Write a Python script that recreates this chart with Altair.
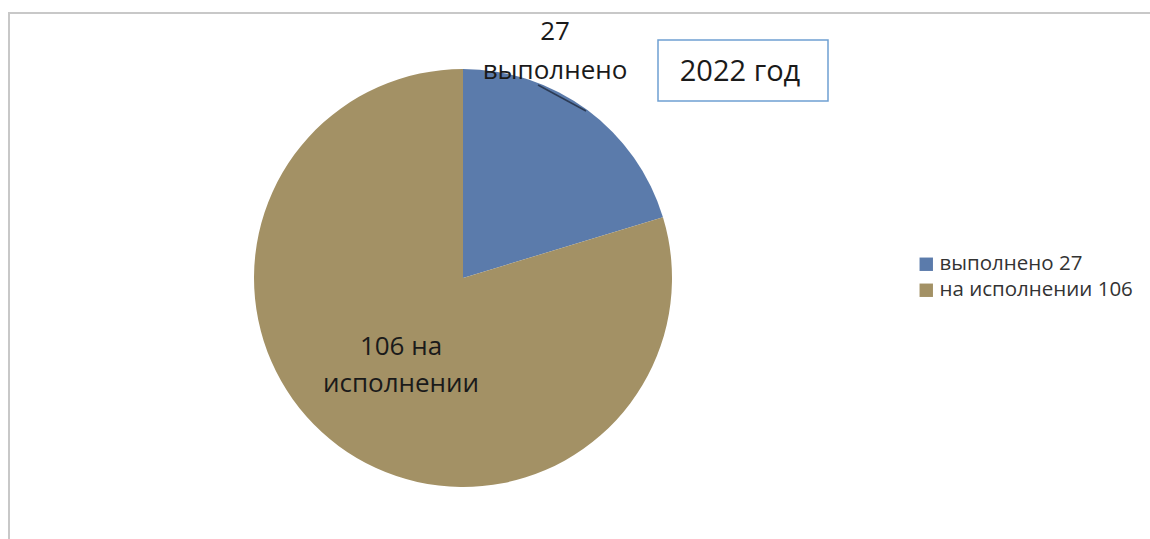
import altair as alt
import pandas as pd

categories = ["выполнено 27", "на исполнении 106"]
values = [27, 106]
slice_order = [0, 1]
colors = ["#5b7bab", "#a39165"]

label_top = ["27", "выполнено"]
label_bottom = ["106 на", "исполнении"]
title_text = "2022 год"

df = pd.DataFrame({"cat": categories, "value": values, "order": slice_order})
one = pd.DataFrame({"a": [0]})

FONT = "Open Sans"

frame = alt.Chart(one).mark_rect(fill="white", stroke="#c8c8c8", strokeWidth=2).encode(
    x=alt.value(9), y=alt.value(13), x2=alt.value(1170), y2=alt.value(580)
)

pie = alt.Chart(df).mark_arc(radius=209, strokeWidth=0).encode(
    theta=alt.Theta("value:Q", stack=True),
    color=alt.Color(
        "cat:N",
        scale=alt.Scale(domain=categories, range=colors),
        legend=alt.Legend(
            orient="none", legendX=916, legendY=254, title=None,
            symbolType="square", symbolSize=180, symbolStrokeWidth=0,
            labelFont=FONT, labelFontSize=20.5, labelColor="#333333",
            labelLimit=400, rowPadding=5, labelOffset=3,
        ),
    ),
    order=alt.Order("order:Q"),
    x=alt.value(463),
    y=alt.value(278),
)

leader = alt.Chart(one).mark_rule(color="#2c3b55", strokeWidth=1.5).encode(
    x=alt.value(538), y=alt.value(85), x2=alt.value(586), y2=alt.value(111)
)

def txt(s, x, y, size):
    return alt.Chart(pd.DataFrame({"t": [s]})).mark_text(
        font=FONT, fontSize=size, color="#1a1a1a", align="center", baseline="middle"
    ).encode(text="t:N", x=alt.value(x), y=alt.value(y))

t1 = txt(label_top[0], 555, 32, 26)
t2 = txt(label_top[1], 555, 71, 26)
t3 = txt(label_bottom[0], 401, 347, 26)
t4 = txt(label_bottom[1], 401, 384, 26)

box = alt.Chart(one).mark_rect(fill="white", stroke="#6fa0d2", strokeWidth=1.5).encode(
    x=alt.value(658), y=alt.value(40), x2=alt.value(828), y2=alt.value(101)
)
title = txt(title_text, 740, 72, 29)

chart = alt.layer(frame, pie, leader, t1, t2, t3, t4, box, title).properties(
    width=1150, height=539, autosize=alt.AutoSizeParams(type="none"), padding=0,
    background="white",
).configure_view(stroke=None)

chart.save("out.html", embed_options={"renderer": "svg", "actions": False})
